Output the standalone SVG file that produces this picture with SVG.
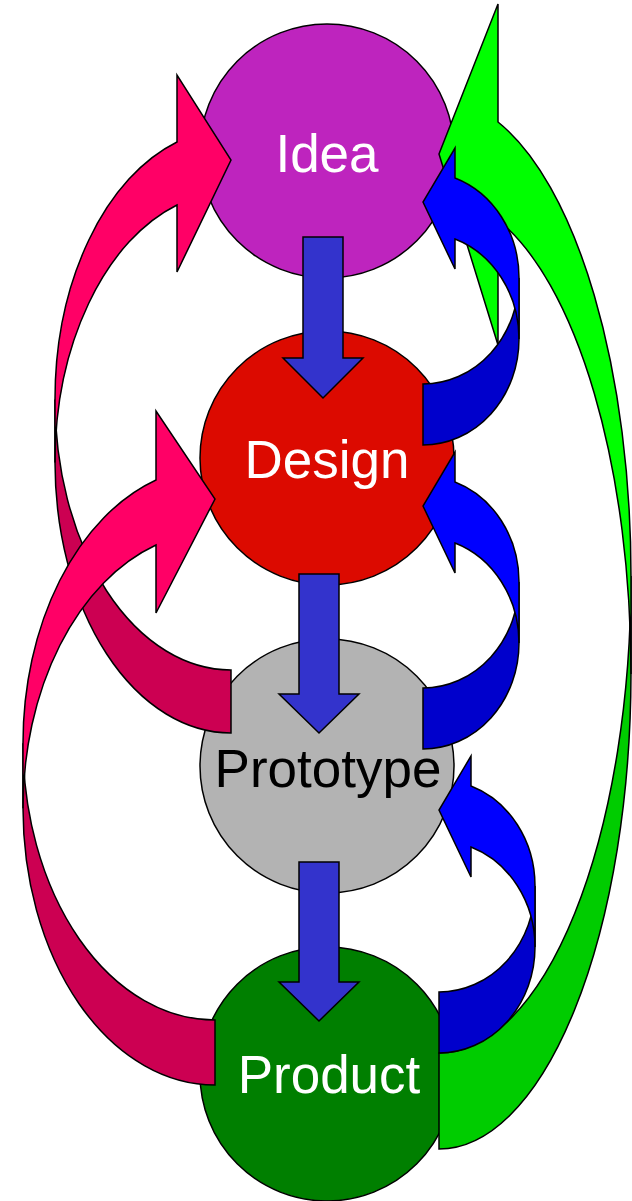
<svg xmlns="http://www.w3.org/2000/svg" width="632" height="1201" viewBox="0 0 632 1201">
<style>
.node{stroke:#000;stroke-width:1.5}
.lbl{font-family:"Liberation Sans",Arial,sans-serif;font-size:53px;text-anchor:middle}
.c path{stroke:#000;stroke-width:1.5;stroke-linejoin:miter}
.pf{fill:#FF0066}.pb{fill:#CC0052}
.bf{fill:#0000FF}.bb{fill:#0000CC}
.gf{fill:#00FF00}.gb{fill:#00CC00}
.dn{fill:#3333CC}
</style>
<rect width="632" height="1201" fill="#fff"/>
<g id="idea"><circle class="node" cx="327" cy="151" r="127" fill="#BE24BE"/><text class="lbl" x="327" y="172" fill="#fff">Idea</text></g>
<g id="design"><circle class="node" cx="327" cy="458" r="127" fill="#DC0A00"/><text class="lbl" x="327" y="478" fill="#fff">Design</text></g>
<g id="prototype"><circle class="node" cx="327" cy="766" r="127" fill="#B3B3B3"/><text class="lbl" x="328" y="787" fill="#000">Prototype</text></g>
<g id="product"><circle class="node" cx="327" cy="1074" r="127" fill="#007F00"/><text class="lbl" x="329" y="1093" fill="#fff">Product</text></g>
<g id="connectors" class="c">
<path class="gb" d="M631 576 A192 477 0 0 1 439 1053 L439 1149 A192 477 0 0 0 631 674 Z"/>
<path class="gf" d="M631 576 A192 477 0 0 0 498 122 L498 4 L439 154 L498 345 L498 220 A192 477 0 0 1 631 674 Z"/>
<path class="pb" d="M55 399.5 A176 270.5 0 0 0 231 670 L231 733 A176 270.5 0 0 1 55 462.5 Z"/>
<path class="pf" d="M55 399.5 A176 270.5 0 0 1 177 142 L177 75 L231 160 L177 272 L177 205 A176 270.5 0 0 0 55 462.5 Z"/>
<path class="pb" d="M23 743.3 A192 276.7 0 0 0 215 1020 L215 1085 A192 276.7 0 0 1 23 808.3 Z"/>
<path class="pf" d="M23 743.3 A192 276.7 0 0 1 156 480 L156 411 L215 499 L156 613 L156 545 A192 276.7 0 0 0 23 808.3 Z"/>
<path class="bb" d="M519 278 A96 106 0 0 1 423 384 L423 445 A96 106 0 0 0 519 339 Z"/>
<path class="bf" d="M519 278 A96 106 0 0 0 455 178 L455 148 L423 202 L455 269 L455 239 A96 106 0 0 1 519 339 Z"/>
<path class="bb" d="M519 582 A96 106 0 0 1 423 688 L423 749 A96 106 0 0 0 519 643 Z"/>
<path class="bf" d="M519 582 A96 106 0 0 0 455 482 L455 452 L423 506 L455 573 L455 543 A96 106 0 0 1 519 643 Z"/>
<path class="bb" d="M535 886 A96 106 0 0 1 439 992 L439 1053 A96 106 0 0 0 535 947 Z"/>
<path class="bf" d="M535 886 A96 106 0 0 0 471 786 L471 756 L439 810 L471 877 L471 847 A96 106 0 0 1 535 947 Z"/>
<path class="dn" d="M303 237 H343 V358 H363 L323 398 L283 358 H303 Z"/>
<path class="dn" d="M299 574 H339 V694 H359 L319 733 L279 694 H299 Z"/>
<path class="dn" d="M299 862 H339 V982 H359 L319 1021 L279 982 H299 Z"/>
</g>
</svg>
